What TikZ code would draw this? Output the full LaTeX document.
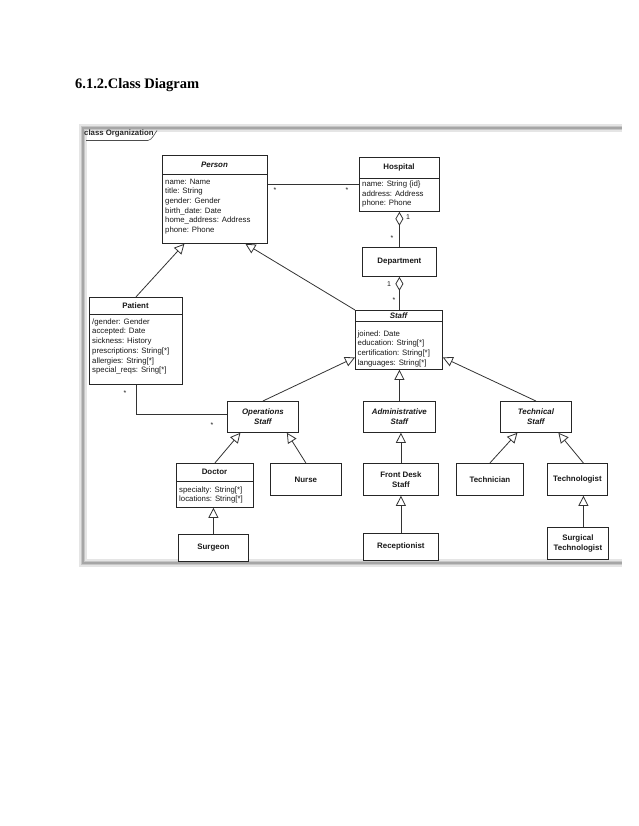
\documentclass[tikz,border=0pt]{standalone}
\usepackage{fontspec}
\setmainfont{Liberation Serif}
\newfontfamily\arialf{Liberation Sans}
\usetikzlibrary{arrows.meta}
\begin{document}
\begin{tikzpicture}[x=1pt,y=-1pt,
  box/.style={draw=black!85, line width=0.8pt, fill=white, anchor=north west, inner sep=0pt, align=center,
     font=\arialf\bfseries\fontsize{7.9}{10}\selectfont, text=black!90},
  ttl/.style={inner sep=0pt, font=\arialf\bfseries\fontsize{7.9}{10}\selectfont, text=black!90},
  attr/.style={inner sep=0pt, anchor=north west, align=left, font=\arialf\fontsize{7.8}{9.7}\selectfont, text=black!90},
  sep/.style={draw=black!85, line width=0.8pt},
  conn/.style={draw=black!80, line width=0.8pt},
  gen/.style={conn, -{Triangle[open, length=10pt, width=10pt, line width=0.8pt]}},
  agg/.style={conn, {Diamond[open, length=14pt, width=8pt, line width=0.8pt]}-},
  mult/.style={inner sep=0pt, font=\arialf\fontsize{7}{8}\selectfont, text=black!90}
]
\useasboundingbox (0,0) rectangle (638,826);
% heading
\node[anchor=base west, inner sep=0pt, font=\bfseries\fontsize{14.5}{16}\selectfont] (heading) at (75,89) {6.1.2.Class Diagram};
% frame
\draw[gray!20, line width=8pt] (622,128) -- (83,128) -- (83,563) -- (622,563);
\draw[gray!45, line width=4.5pt] (622,128) -- (83,128) -- (83,563) -- (622,563);
\draw[gray!70, line width=1.8pt] (622,128) -- (83,128) -- (83,563) -- (622,563);
\draw[black!70, line width=0.6pt] (86,140.5) -- (148,140.5) .. controls (152,140) and (155,133) .. (157,130.5);
\node[anchor=west, inner sep=0pt, font=\arialf\bfseries\fontsize{7.8}{9}\selectfont, text=black!85] (framelbl) at (84,134) {class Organization};

% Person
\node[box, minimum width=105pt, minimum height=88pt] (person) at (162,155) {};
\node[ttl] (personT) at (214.5,165) {\itshape Person};
\draw[sep] (person.west |- 0,174) -- (person.east |- 0,174);
\node[attr] (personA) at (165,178.5) {name: Name\\title: String\\gender: Gender\\birth\_date: Date\\home\_address: Address\\phone: Phone};

% Hospital
\node[box, minimum width=80pt, minimum height=54pt] (hospital) at (359,157) {};
\node[ttl] (hospitalT) at (399,167) {Hospital};
\draw[sep] (hospital.west |- 0,178) -- (hospital.east |- 0,178);
\node[attr] (hospitalA) at (362,180.5) {name: String \{id\}\\address: Address\\phone: Phone};

% Department
\node[box, minimum width=74pt, minimum height=29pt] (department) at (362,247) {Department};

% Staff
\node[box, minimum width=87pt, minimum height=59pt] (staff) at (355,310) {};
\node[ttl] (staffT) at (398.5,316) {\itshape Staff};
\draw[sep] (staff.west |- 0,321.5) -- (staff.east |- 0,321.5);
\node[attr] (staffA) at (357.5,330.4) {joined: Date\\education: String[*]\\certification: String[*]\\languages: String[*]};

% Patient
\node[box, minimum width=93pt, minimum height=87pt] (patient) at (89,297) {};
\node[ttl] (patientT) at (135.5,305.5) {Patient};
\draw[sep] (patient.west |- 0,314) -- (patient.east |- 0,314);
\node[attr] (patientA) at (92,318.4) {/gender: Gender\\accepted: Date\\sickness: History\\prescriptions: String[*]\\allergies: String[*]\\special\_reqs: Sring[*]};

% second level
\node[box, minimum width=71pt, minimum height=31pt] (ops) at (227,401) {\itshape Operations\\\itshape Staff};
\node[box, minimum width=72pt, minimum height=31pt] (admin) at (363,401) {\itshape Administrative\\\itshape Staff};
\node[box, minimum width=71pt, minimum height=31pt] (technical) at (500,401) {\itshape Technical\\\itshape Staff};

% third level
\node[box, minimum width=77pt, minimum height=44pt] (doctor) at (176,463) {};
\node[ttl] (doctorT) at (214.5,472) {Doctor};
\draw[sep] (doctor.west |- 0,481) -- (doctor.east |- 0,481);
\node[attr] (doctorA) at (179,486.4) {specialty: String[*]\\locations: String[*]};
\node[box, minimum width=71pt, minimum height=32pt] (nurse) at (270,463) {Nurse};
\node[box, minimum width=75pt, minimum height=32pt] (frontdesk) at (363,463) {Front Desk\\Staff};
\node[box, minimum width=67pt, minimum height=32pt] (technician) at (456,463) {Technician};
\node[box, minimum width=60pt, minimum height=32pt] (technologist) at (547,463) {Technologist};

% fourth level
\node[box, minimum width=70pt, minimum height=27pt] (surgeon) at (178,534) {Surgeon};
\node[box, minimum width=75pt, minimum height=27pt] (receptionist) at (363,533) {Receptionist};
\node[box, minimum width=61pt, minimum height=32pt] (surgtech) at (547,527) {Surgical\\Technologist};

% associations
\draw[conn] (hospital.west -| person.east) -- (hospital.west);
\node[mult] (m1) at (275,190) {*};
\node[mult] (m2) at (347,190) {*};
\draw[agg] (hospital.south) -- (department.north);
\node[mult] (m3) at (408,217) {1};
\node[mult] (m4) at (392,238) {*};
\draw[agg] (department.south) -- (department.south |- staff.north);
\node[mult] (m5) at (389,284) {1};
\node[mult] (m6) at (394,300) {*};
\draw[conn] (patient.south) -- (patient.south |- 0,414) -- (ops.west |- 0,414);
\node[mult] (m7) at (125,393) {*};
\node[mult] (m8) at (212,425) {*};

% generalizations
\draw[gen] (patient.north) -- ([xshift=-30.5pt]person.south);
\draw[gen] (staff.north west) -- ([xshift=30.5pt]person.south);
\draw[gen] (ops.north) -- ([yshift=-17.5pt]staff.west);
\draw[gen] (admin.north) -- (admin.north |- staff.south);
\draw[gen] (technical.north) -- ([yshift=-17.5pt]staff.east);
\draw[gen] (doctor.north) -- ([xshift=-22.5pt]ops.south);
\draw[gen] (nurse.north) -- ([xshift=24pt]ops.south);
\draw[gen] (frontdesk.north) -- (frontdesk.north |- admin.south);
\draw[gen] (technician.north) -- ([xshift=-18.5pt]technical.south);
\draw[gen] ([xshift=6pt]technologist.north) -- ([xshift=22.5pt]technical.south);
\draw[gen] (surgeon.north) -- (surgeon.north |- doctor.south);
\draw[gen] (receptionist.north) -- (receptionist.north |- frontdesk.south);
\draw[gen] ([xshift=5.5pt]surgtech.north) -- ([xshift=5.5pt]surgtech.north |- technologist.south);
\end{tikzpicture}
\end{document}
